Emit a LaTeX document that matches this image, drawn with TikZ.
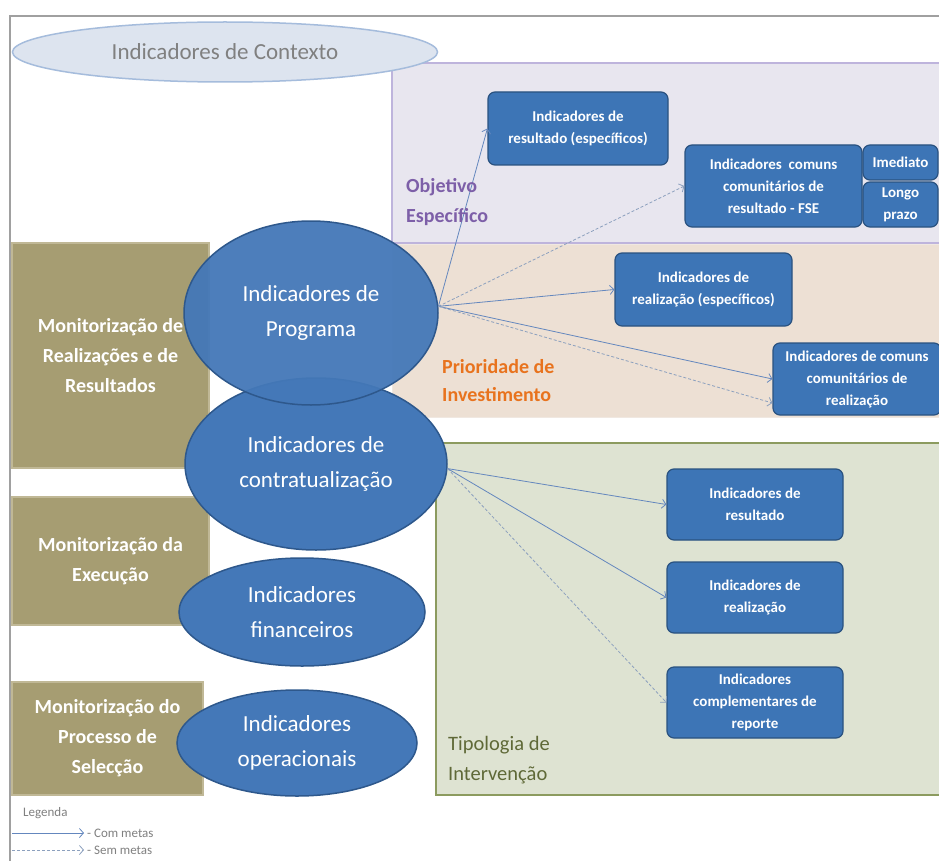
\documentclass[tikz,border=0pt]{standalone}
\usepackage{fontspec}
\setmainfont{Carlito}
\usetikzlibrary{shapes.geometric,arrows.meta,calc}
\definecolor{frameline}{RGB}{160,160,160}
\definecolor{lavfill}{RGB}{232,230,239}
\definecolor{lavline}{RGB}{190,180,220}
\definecolor{peachfill}{RGB}{237,224,212}
\definecolor{peachline}{RGB}{240,232,225}
\definecolor{greenfill}{RGB}{222,227,210}
\definecolor{greenline}{RGB}{140,155,95}
\definecolor{ctxfill}{RGB}{221,228,239}
\definecolor{ctxline}{RGB}{165,188,220}
\definecolor{ctxtext}{RGB}{128,128,128}
\definecolor{monfill}{RGB}{166,157,114}
\definecolor{monline}{RGB}{192,184,150}
\definecolor{elfill}{RGB}{68,120,184}
\definecolor{elline}{RGB}{46,88,140}
\definecolor{bfill}{RGB}{61,117,182}
\definecolor{bline}{RGB}{42,82,128}
\definecolor{arrowc}{RGB}{100,135,190}
\definecolor{dashc}{RGB}{140,160,190}
\definecolor{purpletext}{RGB}{125,95,168}
\definecolor{orangetext}{RGB}{232,115,30}
\definecolor{olivetext}{RGB}{95,105,55}
\begin{document}
\begin{tikzpicture}[x=1pt,y=-1pt,
  monbox/.style={draw=monline, fill=monfill, line width=1.2pt, text=white,
    font=\fontsize{20}{30}\selectfont\bfseries, align=center, inner sep=0pt},
  ellip/.style={ellipse, draw=elline, fill=elfill, line width=1.5pt, text=white,
    font=\fontsize{23}{35}\selectfont, align=center, inner sep=0pt},
  bbox/.style={draw=bline, fill=bfill, rounded corners=7pt, line width=1.2pt, text=white,
    font=\fontsize{15}{22}\selectfont\bfseries, align=center, inner sep=0pt},
  withgoal/.style={draw=arrowc, line width=0.8pt, -{Straight Barb[length=4pt,width=9pt]}},
  nogoal/.style={draw=dashc, line width=0.8pt, dash pattern=on 3pt off 2pt,
    -{Straight Barb[length=4pt,width=9pt]}},
  areatitle/.style={anchor=west, align=left, inner sep=0pt},
  legtext/.style={anchor=west, inner sep=0pt, text=ctxtext, font=\fontsize{13}{15}\selectfont}
]
\useasboundingbox (0,0) rectangle (939,861);
\fill[white] (0,0) rectangle (939,861);
% outer frame
\draw[frameline, line width=1.5pt] (10,866) -- (10,16) -- (945,16);
% areas
\draw[fill=lavfill, draw=lavline, line width=1.5pt] (392,63) rectangle (945,243);
\draw[fill=peachfill, draw=peachline, line width=1pt] (392,244) rectangle (945,417);
\draw[lavline, line width=1.5pt] (392,243) -- (945,243);
\draw[fill=greenfill, draw=greenline, line width=1.5pt] (436,443) rectangle (945,795);
% context
\node[ellipse, draw=ctxline, fill=ctxfill, line width=1.5pt, minimum width=425pt, minimum height=60pt,
  inner sep=0pt, text=ctxtext, font=\fontsize{23}{26}\selectfont] (ctx) at (225,52) {Indicadores de Contexto};
% monitoring boxes
\node[monbox, minimum width=197pt, minimum height=225pt] (m1) at (110.5,355.5)
  {Monitorização de\\Realizações e de\\Resultados};
\node[monbox, minimum width=197pt, minimum height=128pt] (m2) at (110.5,561)
  {Monitorização da\\Execução};
\node[monbox, minimum width=191pt, minimum height=113pt] (m3) at (107.5,738.5)
  {Monitorização do\\Processo de\\Selecção};
% ellipses
\node[ellip, minimum width=262pt, minimum height=172pt] (contr) at (316,464)
  {Indicadores de\\contratualização};
\node[ellip, fill opacity=0.95, text opacity=1, minimum width=254pt, minimum height=184pt] (prog) at (311,313)
  {Indicadores de\\Programa};
\node[ellip, minimum width=246pt, minimum height=108pt] (fin) at (302,612)
  {Indicadores\\financeiros};
\node[ellip, minimum width=240pt, minimum height=106pt] (oper) at (297,743)
  {Indicadores\\operacionais};
% blue boxes
\node[bbox, minimum width=180pt, minimum height=73pt] (b1) at (578,128.5)
  {Indicadores de\\resultado (específicos)};
\node[bbox, minimum width=177pt, minimum height=82pt] (b2) at (773.5,186)
  {Indicadores\ \ comuns\\comunitários de\\resultado - FSE};
\node[bbox, minimum width=75pt, minimum height=35pt] (imed) at (900.5,162.5) {Imediato};
\node[bbox, minimum width=75pt, minimum height=45pt] (longo) at (900.5,204.5) {Longo\\prazo};
\node[bbox, minimum width=177pt, minimum height=73pt] (b3) at (703.5,289.5)
  {Indicadores de\\realização (específicos)};
\node[bbox, minimum width=168pt, minimum height=72pt] (b4) at (857,379)
  {Indicadores de comuns\\comunitários de\\realização};
\node[bbox, minimum width=176pt, minimum height=71pt] (c1) at (755,504.5)
  {Indicadores de\\resultado};
\node[bbox, minimum width=176pt, minimum height=71pt] (c2) at (755,597.5)
  {Indicadores de\\realização};
\node[bbox, minimum width=176pt, minimum height=71pt] (c3) at (755,702.5)
  {Indicadores\\complementares de\\reporte};
% connectors
\draw[withgoal] (prog.3) -- (b1.west);
\draw[nogoal] (prog.3) -- (b2.west);
\draw[withgoal] (prog.3) -- (b3.west);
\draw[withgoal] (prog.3) -- (b4.west);
\draw[nogoal] (prog.3) -- ($(b4.west)+(0,24)$);
\draw[withgoal] (contr.358) -- (c1.west);
\draw[withgoal] (contr.358) -- (c2.west);
\draw[nogoal] (contr.358) -- (c3.west);
% area titles
\node[areatitle, text=purpletext, font=\fontsize{20}{30}\selectfont\bfseries] (tobj) at (406,202)
  {Objetivo\\Específico};
\node[areatitle, text=orangetext, font=\fontsize{20}{28}\selectfont\bfseries] (tpri) at (442,381)
  {Prioridade de\\Investimento};
\node[areatitle, text=olivetext, font=\fontsize{20.5}{30}\selectfont] (ttip) at (448,760)
  {Tipologia de\\Intervenção};
% legend
\node[legtext] (leg) at (23,813) {Legenda};
\coordinate (l1a) at (12,833);
\coordinate (l1b) at (84,833);
\coordinate (l2a) at (12,850);
\coordinate (l2b) at (84,850);
\draw[withgoal] (l1a) -- (l1b);
\draw[nogoal] (l2a) -- (l2b);
\node[legtext] (lcom) at (87,833) {- Com metas};
\node[legtext] (lsem) at (87,850) {- Sem metas};
\end{tikzpicture}
\end{document}
